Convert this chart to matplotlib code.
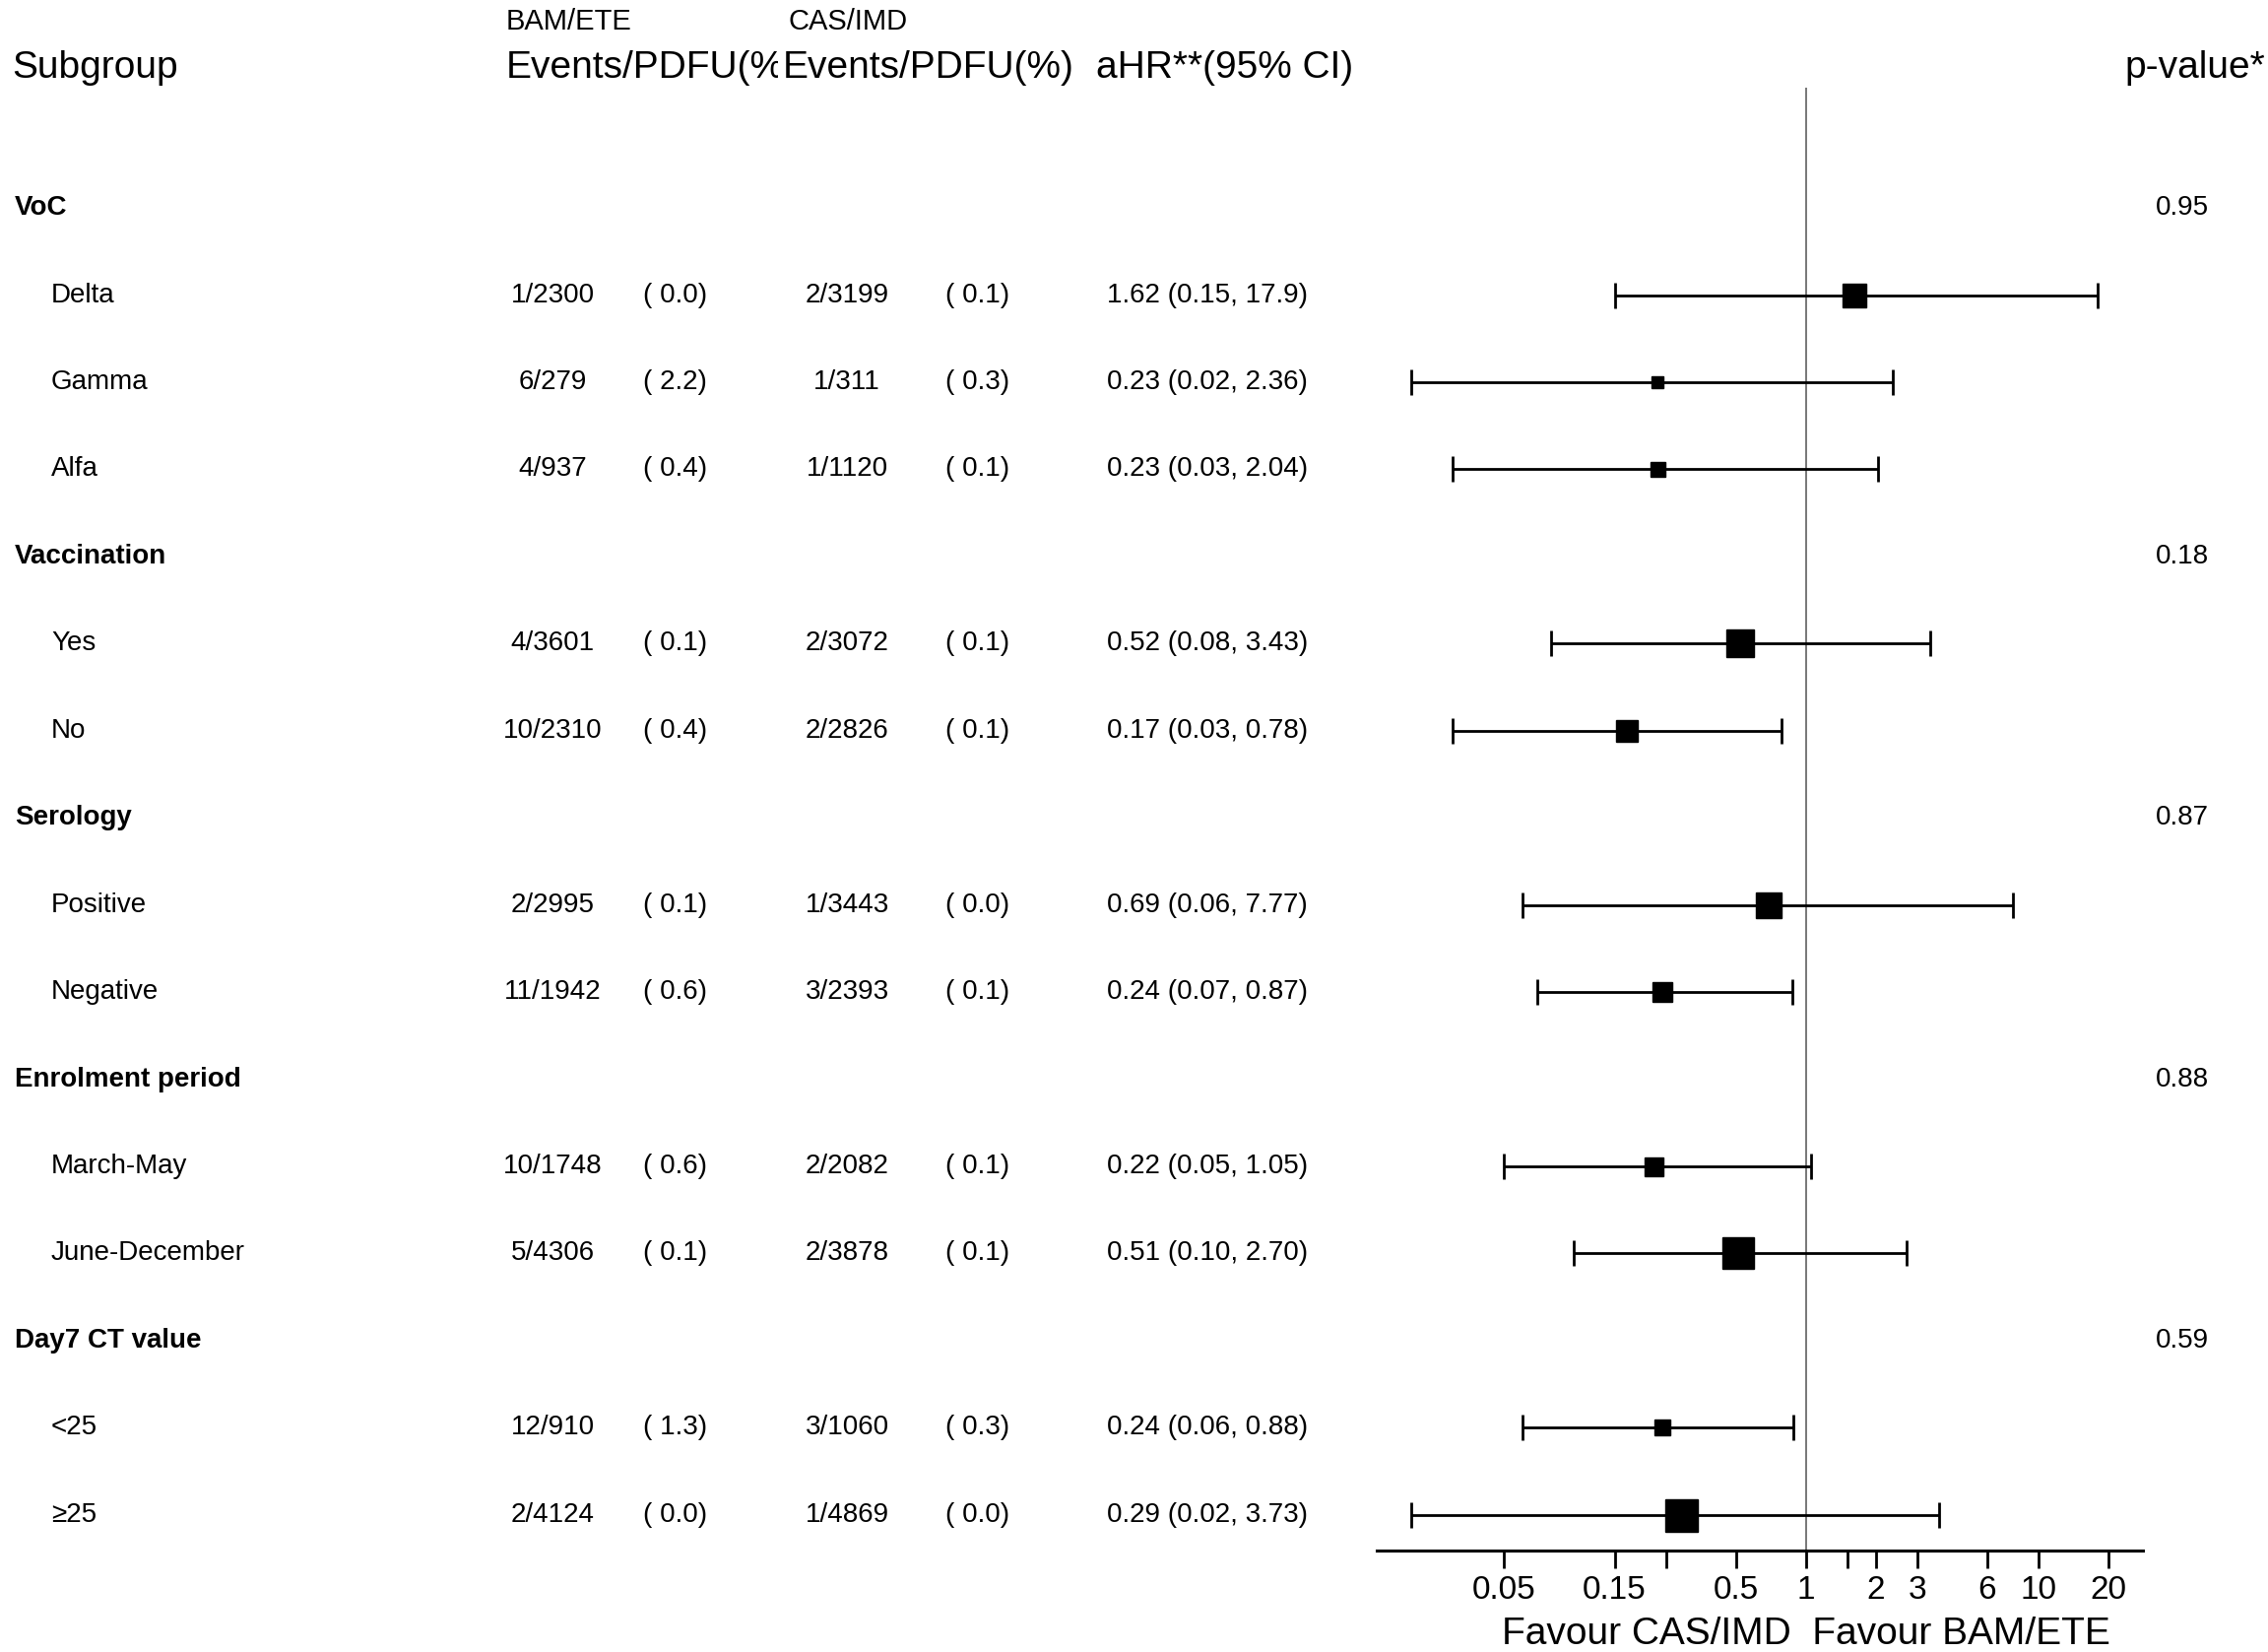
import numpy as np
import matplotlib.pyplot as plt
from matplotlib.patches import Rectangle
from matplotlib.transforms import blended_transform_factory

plt.rcParams['font.family'] = ['Liberation Sans', 'DejaVu Sans']

# subgroup data
groups = ['VoC', 'Vaccination', 'Serology', 'Enrolment period', 'Day7 CT value']
group_p = ['0.95', '0.18', '0.87', '0.88', '0.59']
group_of = [0, 0, 0, 1, 1, 2, 2, 3, 3, 4, 4]
labels = ['Delta', 'Gamma', 'Alfa', 'Yes', 'No', 'Positive', 'Negative',
          'March-May', 'June-December', '<25', '\u226525']
bam_events = ['1/2300', '6/279', '4/937', '4/3601', '10/2310', '2/2995',
              '11/1942', '10/1748', '5/4306', '12/910', '2/4124']
bam_pct = [0.0, 2.2, 0.4, 0.1, 0.4, 0.1, 0.6, 0.6, 0.1, 1.3, 0.0]
cas_events = ['2/3199', '1/311', '1/1120', '2/3072', '2/2826', '1/3443',
              '3/2393', '2/2082', '2/3878', '3/1060', '1/4869']
cas_pct = [0.1, 0.3, 0.1, 0.1, 0.1, 0.0, 0.1, 0.1, 0.1, 0.3, 0.0]
ahr = [1.62, 0.23, 0.23, 0.52, 0.17, 0.69, 0.24, 0.22, 0.51, 0.24, 0.29]
ci_lo = [0.15, 0.02, 0.03, 0.08, 0.03, 0.06, 0.07, 0.05, 0.10, 0.06, 0.02]
ci_hi = [17.9, 2.36, 2.04, 3.43, 0.78, 7.77, 0.87, 1.05, 2.70, 0.88, 3.73]
weight = [24, 12, 15, 28, 22, 26, 20, 19, 32, 16, 33]  # box size (px)

xticks = [0.05, 0.15, 0.25, 0.5, 1, 1.5, 2, 3, 6, 10, 20]
xticklabels = ['0.05', '0.15', '', '0.5', '1', '', '2', '3', '6', '10', '20']

# row layout: group header followed by its subgroups
group_rows, sub_rows = [], []
r = 0
for g in range(len(groups)):
    group_rows.append(r)
    r += 1
    for i in range(len(labels)):
        if group_of[i] == g:
            sub_rows.append(r)
            r += 1
group_rows = np.array(group_rows)
sub_rows = np.array(sub_rows)

W, H = 2303, 1677
fig = plt.figure(figsize=(W / 100, H / 100), dpi=100)
ax = fig.add_axes([1398 / W, 1 - 1574 / H, (2176 - 1398) / W, (1574 - 89) / H])

ahr_a = np.array(ahr)
err = [ahr_a - np.array(ci_lo), np.array(ci_hi) - ahr_a]
ax.axvline(1, color='#777777', lw=1.4, zorder=1)
ax.errorbar(ahr_a, sub_rows, xerr=err, fmt='none', ecolor='black',
            elinewidth=2.0, capsize=9.7, capthick=2.0, zorder=2)
for x, y, w in zip(ahr_a, sub_rows, weight):
    ax.plot(x, y, marker='s', ms=w * 0.72, color='black', ls='none', zorder=3)

ax.set_xscale('log')
ax.set_xlim(0.01422, 28.1)
ax.set_ylim(15.41, -1.38)
ax.set_xticks(xticks)
ax.set_xticklabels(xticklabels, fontsize=24)
ax.minorticks_off()
ax.set_yticks([])
for s in ['left', 'top', 'right']:
    ax.spines[s].set_visible(False)
ax.spines['bottom'].set_linewidth(2.2)
ax.tick_params(axis='x', length=13, width=2.0, pad=5)

tr = blended_transform_factory(fig.transFigure, ax.transData)
fs = 20
for g, y in enumerate(group_rows):
    ax.text(15 / W, y, groups[g], transform=tr, fontsize=fs, fontweight='bold',
            va='center', ha='left', clip_on=False)
    ax.text(2189 / W, y, group_p[g], transform=tr, fontsize=fs,
            va='center', ha='left', clip_on=False)
for i, y in enumerate(sub_rows):
    ax.text(52 / W, y, labels[i], transform=tr, fontsize=fs, va='center', ha='left')
    ax.text(561 / W, y, bam_events[i], transform=tr, fontsize=fs, va='center', ha='center')
    ax.text(653 / W, y, '( %.1f)' % bam_pct[i], transform=tr, fontsize=fs, va='center', ha='left')
    ax.text(860 / W, y, cas_events[i], transform=tr, fontsize=fs, va='center', ha='center')
    ax.text(960 / W, y, '( %.1f)' % cas_pct[i], transform=tr, fontsize=fs, va='center', ha='left')
    ax.text(1124 / W, y, '%.2f (%.2f, %s)' % (ahr[i], ci_lo[i],
            ('%.1f' % ci_hi[i]) if ci_hi[i] >= 10 else ('%.2f' % ci_hi[i])),
            transform=tr, fontsize=fs, va='center', ha='left')

# header
hy = 1 - 69 / H
fig.text(12 / W, hy, 'Subgroup', fontsize=28, va='center', ha='left')
t = fig.text(514 / W, hy, 'Events/PDFU(%)', fontsize=28, va='center', ha='left')
t.set_clip_path(Rectangle((0, 0), 790 / W, 1, transform=fig.transFigure))
fig.text(795 / W, hy, 'Events/PDFU(%)', fontsize=28, va='center', ha='left')
fig.text(1113 / W, hy, 'aHR**(95% CI)', fontsize=28, va='center', ha='left')
fig.text(2300 / W, hy, 'p-value*', fontsize=28, va='center', ha='right')
fig.text(514 / W, 1 - 22 / H, 'BAM/ETE', fontsize=21, va='center', ha='left')
fig.text(800 / W, 1 - 22 / H, 'CAS/IMD', fontsize=21, va='center', ha='left')

trx = blended_transform_factory(ax.transData, fig.transFigure)
ax.text(1, 1 - 1659 / H, 'Favour CAS/IMD  Favour BAM/ETE', transform=trx,
        fontsize=28, va='center', ha='center', clip_on=False)

fig.savefig('out.png', dpi=100)
